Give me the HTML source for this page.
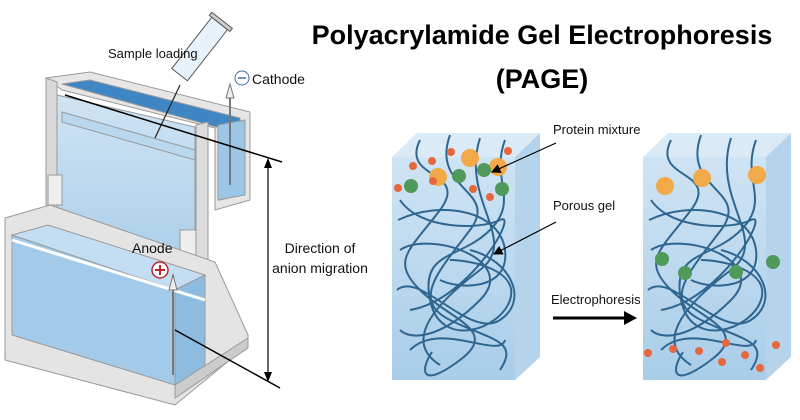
<!DOCTYPE html>
<html><head><meta charset="utf-8"><style>
body{margin:0;background:#fff;width:800px;height:420px;overflow:hidden}
svg{display:block}
text{font-family:"Liberation Sans",sans-serif}
</style></head><body>
<svg width="800" height="420" viewBox="0 0 800 420">
<defs>
<linearGradient id="gb" x1="0" y1="0" x2="0" y2="1"><stop offset="0" stop-color="#cfe4f4"/><stop offset="1" stop-color="#a9cde8"/></linearGradient>
<marker id="ah" markerWidth="8" markerHeight="8" refX="7" refY="4" orient="auto"><path d="M0,0 L8,4 L0,8 z" fill="#000"/></marker>
</defs>
<text x="542" y="44" font-size="27" font-weight="bold" text-anchor="middle" fill="#000">Polyacrylamide Gel Electrophoresis</text>
<text x="542" y="88" font-size="27" font-weight="bold" text-anchor="middle" fill="#000">(PAGE)</text>

<g stroke="#9a9a9a" stroke-width="1">
<polygon points="46,78 90,72 250,112 250,200 215,210 215,128 62,90" fill="#e6e6e6"/>
<polygon points="62,84 90,80 240,118 240,195 220,200 220,128" fill="#3f86c5"/>
<polygon points="218,125 245,120 245,195 218,200" fill="#9cc6e6"/>
<polygon points="57,95 195,127 195,275 57,240" fill="url(#gb)"/>
<polygon points="62,112 195,150 195,160 62,122" fill="#b9d8ee"/>
<polygon points="46,78 57,82 57,220 46,220" fill="#d9d9d9"/>
<polygon points="196,125 208,122 208,300 196,300" fill="#dcdcdc"/>
<rect x="48" y="175" width="14" height="30" fill="#eee"/>
<rect x="180" y="230" width="16" height="40" fill="#eee"/>
<polygon points="5,218 50,205 215,262 248,335 248,345 175,405 5,360" fill="#e4e4e4"/>
<polygon points="12,235 175,290 175,385 12,335" fill="#a3cbe9"/>
<polygon points="12,235 48,225 205,275 175,290" fill="#c3def2"/>
<polygon points="175,290 205,275 205,368 175,385" fill="#8dbce0"/>
<polygon points="175,385 248,338 248,348 175,398" fill="#ccc"/>
</g>
<line x1="12" y1="240" x2="205" y2="300" stroke="#fff" stroke-width="3"/>
<line x1="230" y1="90" x2="230" y2="185" stroke="#777" stroke-width="2"/>
<polygon points="226,98 230,84 234,98" fill="#eee" stroke="#777"/>
<line x1="173" y1="275" x2="173" y2="375" stroke="#777" stroke-width="2"/>
<polygon points="169,290 173,275 177,290" fill="#eee" stroke="#777"/>
<g transform="rotate(-52 195 55)">
<rect x="170" y="45" width="65" height="20" fill="#e8f2fa" stroke="#555"/>
<rect x="235" y="42" width="4" height="26" fill="#ccc" stroke="#555"/>
</g>
<line x1="180" y1="85" x2="155" y2="138" stroke="#222" stroke-width="1.2"/>
<line x1="65" y1="95" x2="282" y2="162" stroke="#000" stroke-width="1.5"/>
<line x1="175" y1="330" x2="280" y2="388" stroke="#000" stroke-width="1.5"/>
<line x1="268" y1="160" x2="268" y2="380" stroke="#000" stroke-width="1.2"/>
<polygon points="264,168 268,158 272,168" fill="#000"/>
<polygon points="264,372 268,382 272,372" fill="#000"/>
<text x="108" y="58" font-size="13" fill="#111">Sample loading</text>
<circle cx="242" cy="78" r="7" fill="#fff" stroke="#3a6ea5"/>
<line x1="238" y1="78" x2="246" y2="78" stroke="#3a6ea5" stroke-width="1.5"/>
<text x="252" y="84" font-size="14" fill="#111">Cathode</text>
<text x="132" y="253" font-size="14" fill="#111">Anode</text>
<circle cx="160" cy="270" r="8" fill="#fff" stroke="#c0282d" stroke-width="1.5"/>
<path d="M155,270h10M160,265v10" stroke="#c0282d" stroke-width="2"/>
<text x="320" y="253" font-size="14" fill="#111" text-anchor="middle">Direction of</text>
<text x="320" y="273" font-size="14" fill="#111" text-anchor="middle">anion migration</text>

<g>
<polygon points="392,157 417,133 540,133 515,157" fill="#dbeaf7"/>
<polygon points="515,157 540,133 540,357 515,380" fill="#b5d4ec"/>
<rect x="392" y="157" width="123" height="223" fill="url(#gb)"/>
<polygon points="643,157 668,133 791,133 766,157" fill="#dbeaf7"/>
<polygon points="766,157 791,133 791,357 766,380" fill="#b5d4ec"/>
<rect x="643" y="157" width="123" height="223" fill="url(#gb)"/>
</g>
<g id="tangle" fill="none" stroke="#2f6690" stroke-width="2">
<path d="M420,140 C400,180 470,170 440,210 S390,260 420,290 S500,330 460,360 S420,370 432,352 M450,135 C430,190 500,190 470,230 S410,300 450,320 S520,340 500,370 M480,138 C460,200 520,240 480,270 S400,340 440,365 M505,140 C490,180 520,200 490,230 S420,250 430,300 S500,330 510,300 S470,260 450,260 M400,200 C420,230 480,230 500,220 S470,300 410,310 M400,250 C430,230 520,260 480,300 S410,340 400,330"/>
<path d="M397,290 C420,270 470,340 500,320 S510,260 470,250 M410,350 C440,320 500,360 505,340 M398,220 C440,200 500,210 505,250 S460,290 440,280"/>
</g>
<use href="#tangle" x="251"/>
<g fill="#f2a947">
<circle cx="470" cy="158" r="9"/><circle cx="438" cy="177" r="9"/><circle cx="498" cy="167" r="9"/>
<circle cx="665" cy="186" r="9"/><circle cx="702" cy="178" r="9"/><circle cx="757" cy="175" r="9"/>
</g>
<g fill="#4f9a5a">
<circle cx="411" cy="186" r="7"/><circle cx="459" cy="176" r="7"/><circle cx="484" cy="170" r="7"/><circle cx="502" cy="189" r="7"/>
<circle cx="662" cy="259" r="7"/><circle cx="685" cy="273" r="7"/><circle cx="736" cy="272" r="7"/><circle cx="773" cy="262" r="7"/>
</g>
<g fill="#e4673e">
<circle cx="413" cy="166" r="4"/><circle cx="432" cy="161" r="4"/><circle cx="451" cy="152" r="4"/><circle cx="508" cy="151" r="4"/><circle cx="398" cy="188" r="4"/><circle cx="433" cy="181" r="4"/><circle cx="473" cy="189" r="4"/><circle cx="490" cy="197" r="4"/>
<circle cx="648" cy="353" r="4"/><circle cx="673" cy="349" r="4"/><circle cx="699" cy="351" r="4"/><circle cx="726" cy="343" r="4"/><circle cx="745" cy="355" r="4"/><circle cx="722" cy="362" r="4"/><circle cx="776" cy="345" r="4"/><circle cx="760" cy="368" r="4"/>
</g>
<text x="553" y="134" font-size="13" fill="#111">Protein mixture</text>
<line x1="556" y1="143" x2="492" y2="172" stroke="#000" stroke-width="1.2" marker-end="url(#ah)"/>
<text x="553" y="210" font-size="13" fill="#111">Porous gel</text>
<line x1="556" y1="222" x2="494" y2="254" stroke="#000" stroke-width="1.2" marker-end="url(#ah)"/>
<text x="551" y="304" font-size="13" fill="#111">Electrophoresis</text>
<line x1="553" y1="318" x2="626" y2="318" stroke="#000" stroke-width="3"/>
<polygon points="624,311 637,318 624,325" fill="#000"/>
</svg>
</body></html>
